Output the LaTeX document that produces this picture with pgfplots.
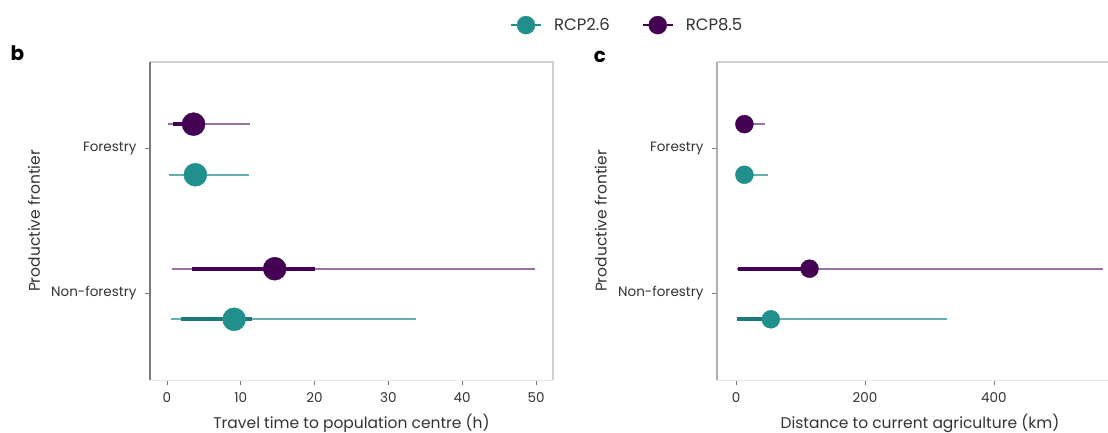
\documentclass[border=0pt]{standalone}
\usepackage{pgfplots}
\pgfplotsset{compat=1.18}
\usepackage{pgfplotstable}
\usepackage{fontspec}
\setmainfont{Poppins}
\definecolor{tealc}{HTML}{21908C}
\definecolor{purc}{HTML}{440154}
\definecolor{spine}{HTML}{7A7A7A}
\definecolor{framec}{HTML}{CFCFCF}
\definecolor{txt}{HTML}{333333}

% panel b: travel time (h)
\pgfplotstableread{
y lo95 lo50 med hi50 hi95
2.17 0.2 0.85 3.6 5.0 11.3
1.17 0.65 3.4 14.6 20.1 49.9
}\bEight
\pgfplotstableread{
y lo95 lo50 med hi50 hi95
1.82 0.3 2.4 3.85 5.0 11.1
0.82 0.55 1.9 9.1 11.5 33.8
}\bTwo
% panel c: distance (km)
\pgfplotstableread{
y lo95 lo50 med hi50 hi95
2.17 0.5 5 13 18 45
1.17 1.5 3 114 125 569
}\cEight
\pgfplotstableread{
y lo95 lo50 med hi50 hi95
1.82 0.5 5 13 18 50
0.82 1 2 54 62 327
}\cTwo

\pgfplotsset{
  panel/.style={
    scale only axis,
    height=318pt,
    ymin=0.4, ymax=2.6,
    ytick={1,2}, yticklabels={Non-forestry,Forestry},
    axis line style={draw=none},
    tick style={spine, line width=0.8pt},
    major tick length=5pt,
    tick align=outside,
    xtick pos=lower, ytick pos=left,
    /pgf/number format/assume math mode=true,
    ticklabel style={font=\fontsize{13.5}{14}\selectfont, text=txt},
    xticklabel style={yshift=-4pt},
    yticklabel style={xshift=-5pt},
    label style={font=\fontsize{15.5}{16}\selectfont, text=txt},
    clip=false,
  },
  thinbar/.style={only marks, mark=none, forget plot,
    error bars/.cd, x dir=both, x explicit, error mark=none,
    error bar style={draw=#1, line width=2pt}},
  thickbar/.style={only marks, mark=none, forget plot,
    error bars/.cd, x dir=both, x explicit, error mark=none,
    error bar style={draw=#1, line width=4.2pt}},
}

\begin{document}
\begin{tikzpicture}
\useasboundingbox (0pt,0pt) rectangle (1108pt,432pt);

% ---------------- panel b ----------------
\begin{axis}[panel,
  at={(150pt,52pt)}, anchor=south west,
  width=403pt,
  xmin=-2.3, xmax=52.3,
  xtick={0,10,20,30,40,50},
  xlabel={Travel time to population centre (h)},
  xlabel style={at={(axis description cs:0.5,0)}, anchor=center, yshift=-43pt},
  ylabel={Productive frontier},
  ylabel style={at={(axis description cs:-0.288,0.5)}, anchor=center},
  legend style={at={(axis description cs:1.184,1.116)}, anchor=center,
    draw=none, fill=none, font=\fontsize{16.5}{17}\selectfont, text=txt,
    legend columns=2,
    /tikz/every odd column/.append style={column sep=10pt},
    /tikz/every even column/.append style={column sep=30pt}},
]
\addlegendimage{legend image code/.code={\draw[tealc, line width=2pt] (-14pt,0pt) -- (16pt,0pt); \fill[tealc] (1pt,0pt) circle (9pt);}}
\addlegendentry{RCP2.6}
\addlegendimage{legend image code/.code={\draw[purc, line width=2pt] (-14pt,0pt) -- (16pt,0pt); \fill[purc] (1pt,0pt) circle (9pt);}}
\addlegendentry{RCP8.5}

\addplot[thinbar=purc!55!white] table[x=med, y=y,
  x error plus expr=\thisrow{hi95}-\thisrow{med},
  x error minus expr=\thisrow{med}-\thisrow{lo95}] {\bEight};
\addplot[thickbar=purc] table[x=med, y=y,
  x error plus expr=\thisrow{hi50}-\thisrow{med},
  x error minus expr=\thisrow{med}-\thisrow{lo50}] {\bEight};
\addplot[only marks, mark=*, mark size=11.5pt, color=purc, forget plot] table[x=med, y=y] {\bEight};

\addplot[thinbar=tealc!70!white] table[x=med, y=y,
  x error plus expr=\thisrow{hi95}-\thisrow{med},
  x error minus expr=\thisrow{med}-\thisrow{lo95}] {\bTwo};
\addplot[thickbar=tealc!85!black] table[x=med, y=y,
  x error plus expr=\thisrow{hi50}-\thisrow{med},
  x error minus expr=\thisrow{med}-\thisrow{lo50}] {\bTwo};
\addplot[only marks, mark=*, mark size=11.5pt, color=tealc, forget plot] table[x=med, y=y] {\bTwo};

\draw[framec!50, line width=0.8pt] (rel axis cs:0,0) -- (rel axis cs:1,0);
\draw[framec, line width=1.2pt] (rel axis cs:1,0) -- (rel axis cs:1,1) -- (rel axis cs:0,1);
\draw[spine, line width=1.4pt] (rel axis cs:0,0) -- (rel axis cs:0,1);
\end{axis}

% ---------------- panel c ----------------
\begin{axis}[panel,
  at={(717pt,52pt)}, anchor=south west,
  width=391pt,
  xmin=-29.5, xmax=577,
  xtick={0,200,400},
  xlabel={Distance to current agriculture (km)},
  xlabel style={at={(axis description cs:0.519,0)}, anchor=center, yshift=-43pt},
  ylabel={Productive frontier},
  ylabel style={at={(axis description cs:-0.297,0.5)}, anchor=center},
]
\addplot[thinbar=purc!55!white] table[x=med, y=y,
  x error plus expr=\thisrow{hi95}-\thisrow{med},
  x error minus expr=\thisrow{med}-\thisrow{lo95}] {\cEight};
\addplot[thickbar=purc] table[x=med, y=y,
  x error plus expr=\thisrow{hi50}-\thisrow{med},
  x error minus expr=\thisrow{med}-\thisrow{lo50}] {\cEight};
\addplot[only marks, mark=*, mark size=9pt, color=purc] table[x=med, y=y] {\cEight};

\addplot[thinbar=tealc!70!white] table[x=med, y=y,
  x error plus expr=\thisrow{hi95}-\thisrow{med},
  x error minus expr=\thisrow{med}-\thisrow{lo95}] {\cTwo};
\addplot[thickbar=tealc!85!black] table[x=med, y=y,
  x error plus expr=\thisrow{hi50}-\thisrow{med},
  x error minus expr=\thisrow{med}-\thisrow{lo50}] {\cTwo};
\addplot[only marks, mark=*, mark size=9pt, color=tealc] table[x=med, y=y] {\cTwo};

\draw[framec!50, line width=0.8pt] (rel axis cs:0,0) -- (rel axis cs:1,0);
\draw[framec, line width=1.2pt] (rel axis cs:0,1) -- (rel axis cs:1,1);
\draw[spine!60, line width=1.2pt] (rel axis cs:0,0) -- (rel axis cs:0,1);
\end{axis}

\node[font=\bfseries\fontsize{20}{20}\selectfont, anchor=center] at (17.5pt,378.5pt) {b};
\node[font=\bfseries\fontsize{20}{20}\selectfont, anchor=center] at (600pt,375.5pt) {c};
\end{tikzpicture}
\end{document}
